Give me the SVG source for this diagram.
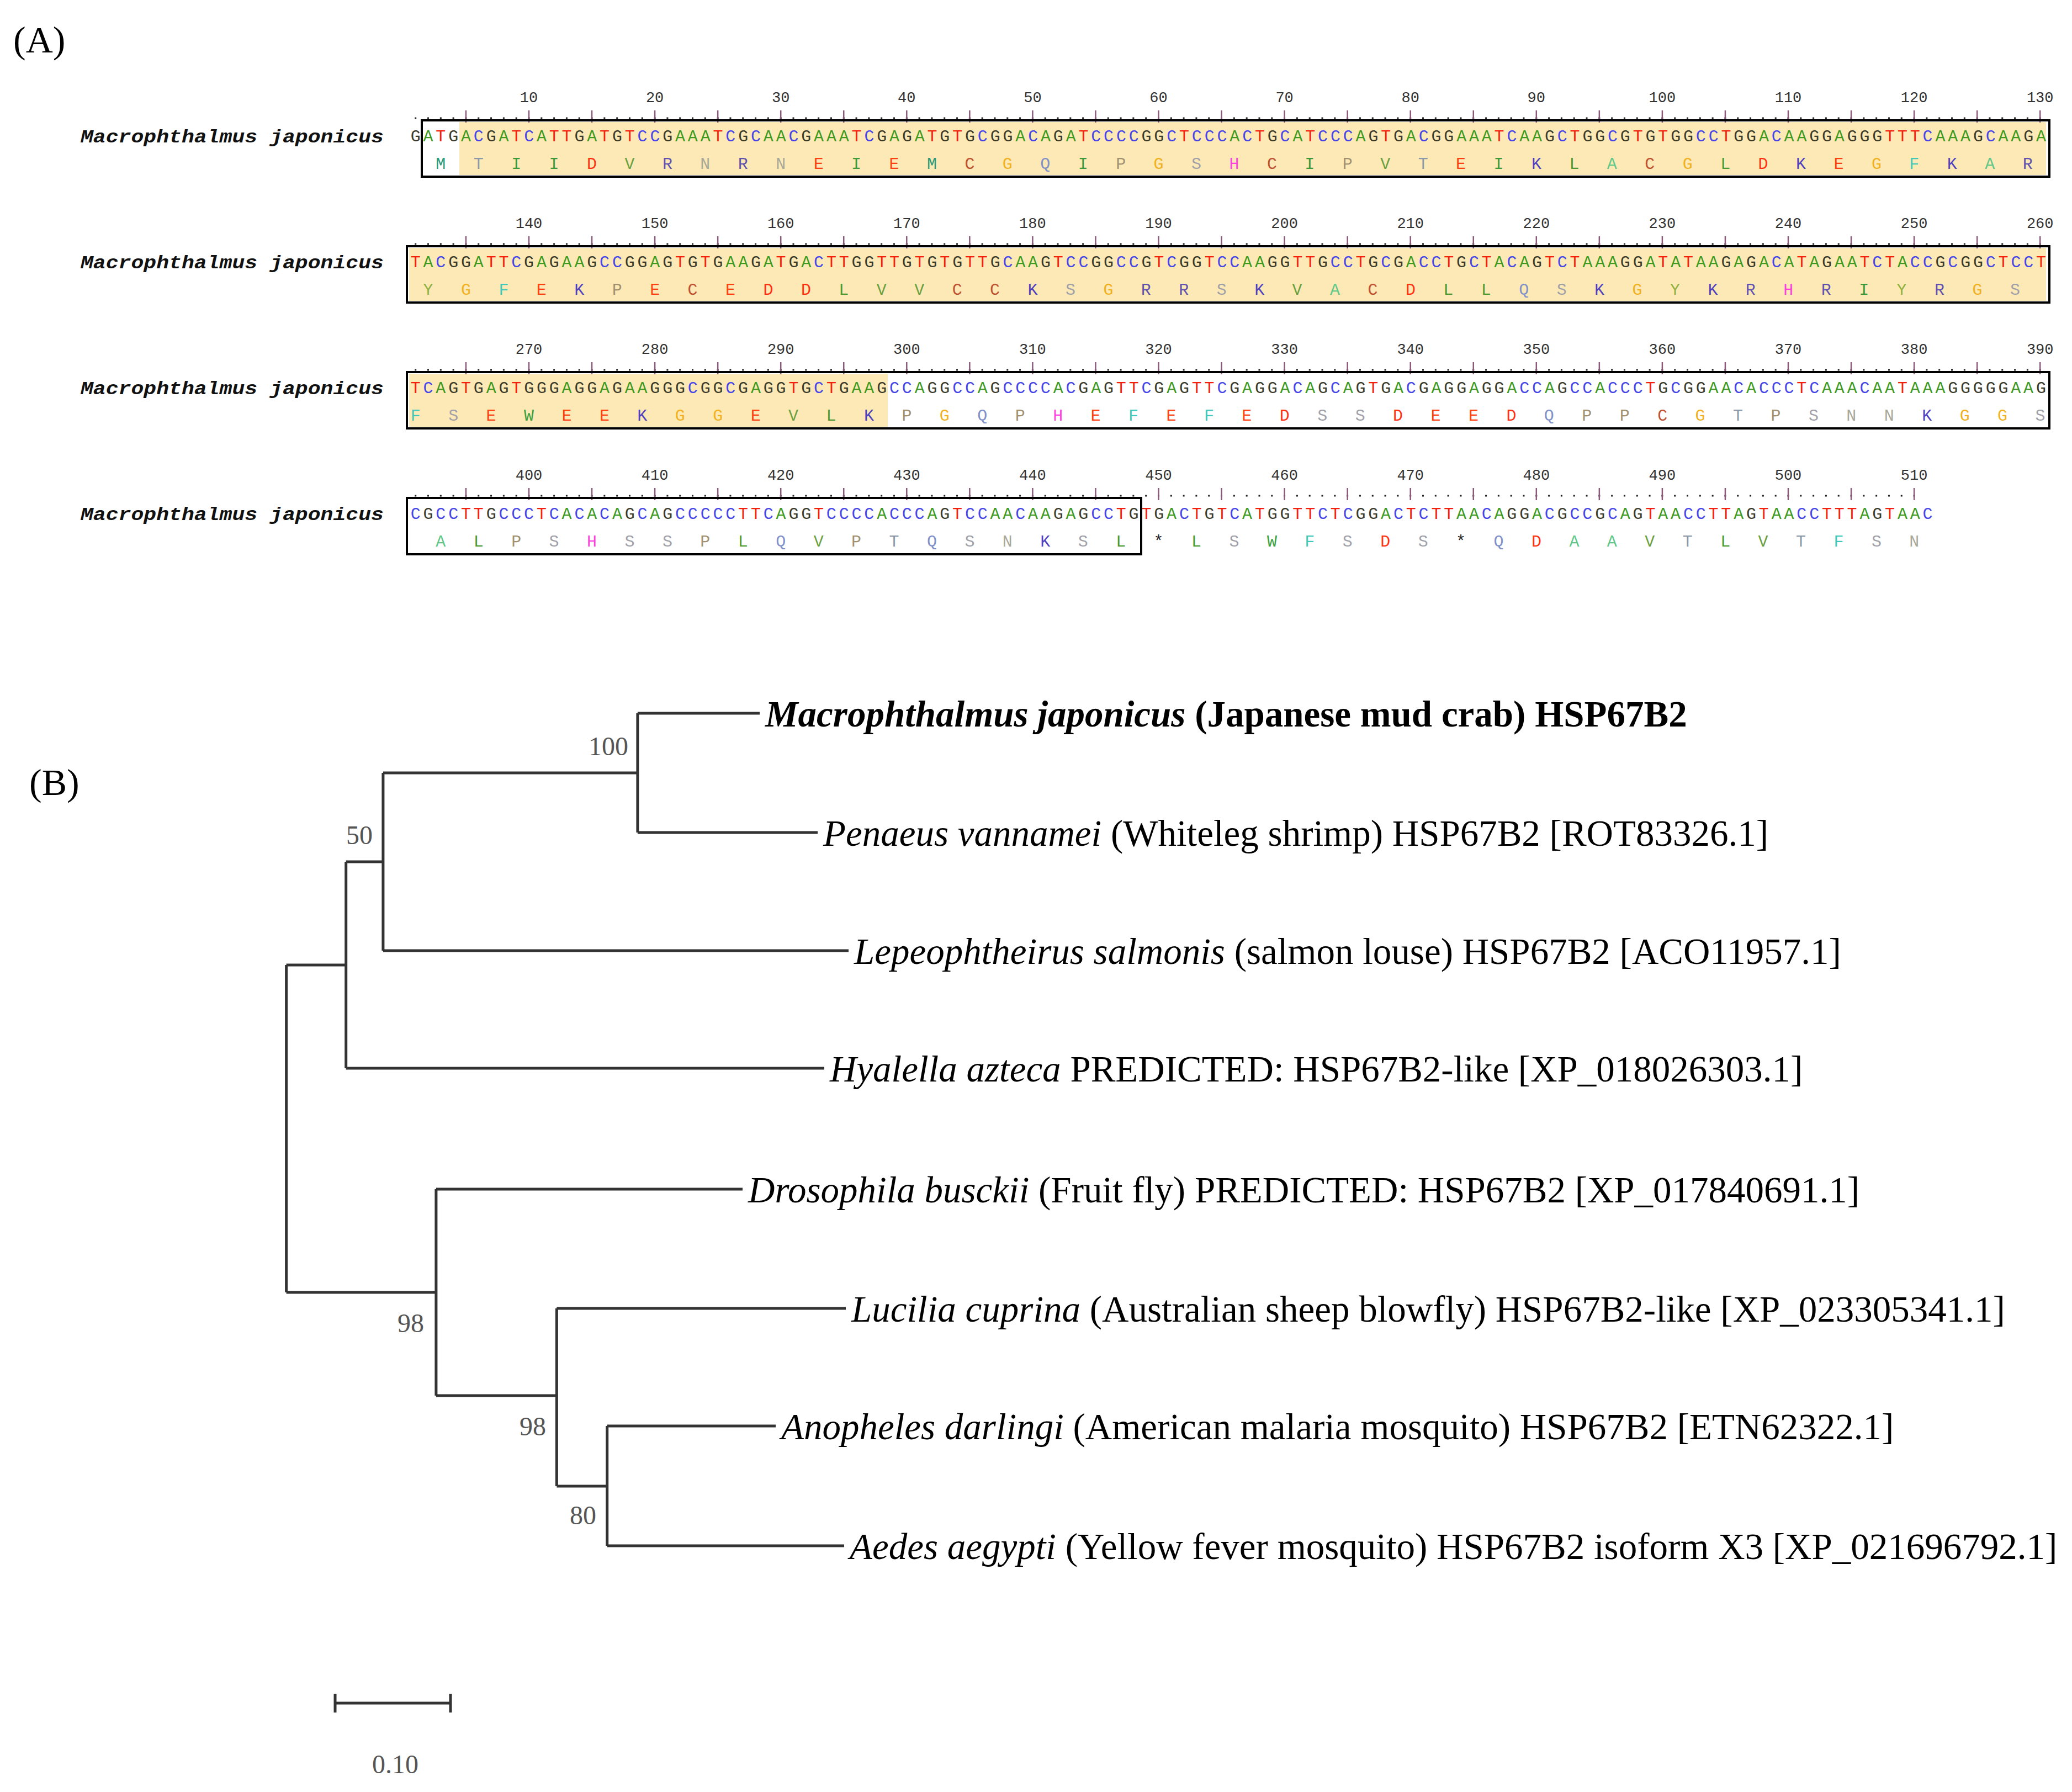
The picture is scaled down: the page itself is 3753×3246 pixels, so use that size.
<svg xmlns="http://www.w3.org/2000/svg" xmlns:xlink="http://www.w3.org/1999/xlink" width="3753" height="3246" viewBox="0 0 3753 3246">
<style>
.seq{font-family:"Liberation Mono",monospace;font-size:30px;letter-spacing:4.81px}
.aa{font-family:"Liberation Mono",monospace;font-size:30px;letter-spacing:50.43px}
.num{font-family:"Liberation Mono",monospace;font-size:27px;fill:#333;text-anchor:middle}
.a{fill:#3c9a1e}.t{fill:#f4200c}.c{fill:#4646e8}.g{fill:#3a3a2a}
.M{fill:#2a9a7a}.T{fill:#8a98a8}.I{fill:#3a9a3a}.D{fill:#ff3010}.V{fill:#6aa040}.R{fill:#6050b0}.N{fill:#a8a898}.E{fill:#ff4010}.C{fill:#c05030}.G{fill:#f0b020}.Q{fill:#8090c8}.P{fill:#a09070}.S{fill:#a0a0a8}.H{fill:#ff40e0}.K{fill:#5040c0}.L{fill:#4a9a30}.A{fill:#60c888}.F{fill:#40c8b8}.W{fill:#3aa040}.Y{fill:#90b040}.X{fill:#222}
.box{fill:none;stroke:#000;stroke-width:4}
.hl{fill:#fde9b6}
.br{stroke:#333;stroke-width:5;fill:none}
.lab{font-family:"Liberation Serif",serif;font-size:67px;fill:#000}
.bs{font-family:"Liberation Serif",serif;font-size:48px;fill:#555;text-anchor:end}
.panel{font-family:"Liberation Serif",serif;font-size:68px;fill:#000}
.name{font-family:"Liberation Mono",monospace;font-size:34px;font-weight:bold;font-style:italic;fill:#111}
</style>
<defs>
<g id="ticks">
<line x1="751.2" y1="214" x2="3697" y2="214" stroke="#222" stroke-width="3" stroke-dasharray="3 19.81"/>
<path d="M843.95 200V222M958 200V222M1072.05 200V222M1186.1 200V222M1300.15 200V222M1414.2 200V222M1528.25 200V222M1642.3 200V222M1756.35 200V222M1870.4 200V222M1984.45 200V222M2098.5 200V222M2212.55 200V222M2326.6 200V222M2440.65 200V222M2554.7 200V222M2668.75 200V222M2782.8 200V222M2896.85 200V222M3010.9 200V222M3124.95 200V222M3239 200V222M3353.05 200V222M3467.1 200V222M3581.15 200V222M3695.2 200V222" stroke="#8b5a7a" stroke-width="2.5"/>
</g>
<g id="ticks4">
<line x1="751.2" y1="214" x2="3470" y2="214" stroke="#222" stroke-width="3" stroke-dasharray="3 19.81"/>
<path d="M843.95 200V222M958 200V222M1072.05 200V222M1186.1 200V222M1300.15 200V222M1414.2 200V222M1528.25 200V222M1642.3 200V222M1756.35 200V222M1870.4 200V222M1984.45 200V222M2098.5 200V222M2212.55 200V222M2326.6 200V222M2440.65 200V222M2554.7 200V222M2668.75 200V222M2782.8 200V222M2896.85 200V222M3010.9 200V222M3124.95 200V222M3239 200V222M3353.05 200V222M3467.1 200V222" stroke="#8b5a7a" stroke-width="2.5"/>
</g>
</defs>
<rect width="3753" height="3246" fill="#fff"/>
<g id="panelA">
<text class="panel" x="24" y="95">(A)</text>
<g id="row1">
<rect class="hl" x="832" y="221" width="2874" height="96"/>
<use xlink:href="#ticks"/>
<text class="num" y="185"><tspan x="958">10</tspan><tspan x="1186.1">20</tspan><tspan x="1414.2">30</tspan><tspan x="1642.3">40</tspan><tspan x="1870.4">50</tspan><tspan x="2098.5">60</tspan><tspan x="2326.6">70</tspan><tspan x="2554.7">80</tspan><tspan x="2782.8">90</tspan><tspan x="3010.9">100</tspan><tspan x="3239">110</tspan><tspan x="3467.1">120</tspan><tspan x="3695.2">130</tspan></text>
<text class="name" x="146" y="258" textLength="549" lengthAdjust="spacingAndGlyphs">Macrophthalmus japonicus</text>
<text class="seq" x="743.7" y="256"><tspan class="g">G</tspan><tspan class="a">A</tspan><tspan class="t">T</tspan><tspan class="g">G</tspan><tspan class="a">A</tspan><tspan class="c">C</tspan><tspan class="g">G</tspan><tspan class="a">A</tspan><tspan class="t">T</tspan><tspan class="c">C</tspan><tspan class="a">A</tspan><tspan class="t">TT</tspan><tspan class="g">G</tspan><tspan class="a">A</tspan><tspan class="t">T</tspan><tspan class="g">G</tspan><tspan class="t">T</tspan><tspan class="c">CC</tspan><tspan class="g">G</tspan><tspan class="a">AAA</tspan><tspan class="t">T</tspan><tspan class="c">C</tspan><tspan class="g">G</tspan><tspan class="c">C</tspan><tspan class="a">AA</tspan><tspan class="c">C</tspan><tspan class="g">G</tspan><tspan class="a">AAA</tspan><tspan class="t">T</tspan><tspan class="c">C</tspan><tspan class="g">G</tspan><tspan class="a">A</tspan><tspan class="g">G</tspan><tspan class="a">A</tspan><tspan class="t">T</tspan><tspan class="g">G</tspan><tspan class="t">T</tspan><tspan class="g">G</tspan><tspan class="c">C</tspan><tspan class="g">GG</tspan><tspan class="a">A</tspan><tspan class="c">C</tspan><tspan class="a">A</tspan><tspan class="g">G</tspan><tspan class="a">A</tspan><tspan class="t">T</tspan><tspan class="c">CCCC</tspan><tspan class="g">GG</tspan><tspan class="c">C</tspan><tspan class="t">T</tspan><tspan class="c">CCC</tspan><tspan class="a">A</tspan><tspan class="c">C</tspan><tspan class="t">T</tspan><tspan class="g">G</tspan><tspan class="c">C</tspan><tspan class="a">A</tspan><tspan class="t">T</tspan><tspan class="c">CCC</tspan><tspan class="a">A</tspan><tspan class="g">G</tspan><tspan class="t">T</tspan><tspan class="g">G</tspan><tspan class="a">A</tspan><tspan class="c">C</tspan><tspan class="g">GG</tspan><tspan class="a">AAA</tspan><tspan class="t">T</tspan><tspan class="c">C</tspan><tspan class="a">AA</tspan><tspan class="g">G</tspan><tspan class="c">C</tspan><tspan class="t">T</tspan><tspan class="g">GG</tspan><tspan class="c">C</tspan><tspan class="g">G</tspan><tspan class="t">T</tspan><tspan class="g">G</tspan><tspan class="t">T</tspan><tspan class="g">GG</tspan><tspan class="c">CC</tspan><tspan class="t">T</tspan><tspan class="g">GG</tspan><tspan class="a">A</tspan><tspan class="c">C</tspan><tspan class="a">AA</tspan><tspan class="g">GG</tspan><tspan class="a">A</tspan><tspan class="g">GGG</tspan><tspan class="t">TTT</tspan><tspan class="c">C</tspan><tspan class="a">AAA</tspan><tspan class="g">G</tspan><tspan class="c">C</tspan><tspan class="a">AA</tspan><tspan class="g">G</tspan><tspan class="a">A</tspan></text>
<text class="aa" x="789.3" y="306"><tspan class="M">M</tspan><tspan class="T">T</tspan><tspan class="I">I</tspan><tspan class="I">I</tspan><tspan class="D">D</tspan><tspan class="V">V</tspan><tspan class="R">R</tspan><tspan class="N">N</tspan><tspan class="R">R</tspan><tspan class="N">N</tspan><tspan class="E">E</tspan><tspan class="I">I</tspan><tspan class="E">E</tspan><tspan class="M">M</tspan><tspan class="C">C</tspan><tspan class="G">G</tspan><tspan class="Q">Q</tspan><tspan class="I">I</tspan><tspan class="P">P</tspan><tspan class="G">G</tspan><tspan class="S">S</tspan><tspan class="H">H</tspan><tspan class="C">C</tspan><tspan class="I">I</tspan><tspan class="P">P</tspan><tspan class="V">V</tspan><tspan class="T">T</tspan><tspan class="E">E</tspan><tspan class="I">I</tspan><tspan class="K">K</tspan><tspan class="L">L</tspan><tspan class="A">A</tspan><tspan class="C">C</tspan><tspan class="G">G</tspan><tspan class="L">L</tspan><tspan class="D">D</tspan><tspan class="K">K</tspan><tspan class="E">E</tspan><tspan class="G">G</tspan><tspan class="F">F</tspan><tspan class="K">K</tspan><tspan class="A">A</tspan><tspan class="R">R</tspan></text>
<rect class="box" x="764" y="218" width="2948" height="102"/>
</g>
<g id="row2" transform="translate(0,228)">
<rect class="hl" x="741" y="221" width="2965" height="96"/>
<use xlink:href="#ticks"/>
<text class="num" y="185"><tspan x="958">140</tspan><tspan x="1186.1">150</tspan><tspan x="1414.2">160</tspan><tspan x="1642.3">170</tspan><tspan x="1870.4">180</tspan><tspan x="2098.5">190</tspan><tspan x="2326.6">200</tspan><tspan x="2554.7">210</tspan><tspan x="2782.8">220</tspan><tspan x="3010.9">230</tspan><tspan x="3239">240</tspan><tspan x="3467.1">250</tspan><tspan x="3695.2">260</tspan></text>
<text class="name" x="146" y="258" textLength="549" lengthAdjust="spacingAndGlyphs">Macrophthalmus japonicus</text>
<text class="seq" x="743.7" y="256"><tspan class="t">T</tspan><tspan class="a">A</tspan><tspan class="c">C</tspan><tspan class="g">GG</tspan><tspan class="a">A</tspan><tspan class="t">TT</tspan><tspan class="c">C</tspan><tspan class="g">G</tspan><tspan class="a">A</tspan><tspan class="g">G</tspan><tspan class="a">AA</tspan><tspan class="g">G</tspan><tspan class="c">CC</tspan><tspan class="g">GG</tspan><tspan class="a">A</tspan><tspan class="g">G</tspan><tspan class="t">T</tspan><tspan class="g">G</tspan><tspan class="t">T</tspan><tspan class="g">G</tspan><tspan class="a">AA</tspan><tspan class="g">G</tspan><tspan class="a">A</tspan><tspan class="t">T</tspan><tspan class="g">G</tspan><tspan class="a">A</tspan><tspan class="c">C</tspan><tspan class="t">TT</tspan><tspan class="g">GG</tspan><tspan class="t">TT</tspan><tspan class="g">G</tspan><tspan class="t">T</tspan><tspan class="g">G</tspan><tspan class="t">T</tspan><tspan class="g">G</tspan><tspan class="t">TT</tspan><tspan class="g">G</tspan><tspan class="c">C</tspan><tspan class="a">AA</tspan><tspan class="g">G</tspan><tspan class="t">T</tspan><tspan class="c">CC</tspan><tspan class="g">GG</tspan><tspan class="c">CC</tspan><tspan class="g">G</tspan><tspan class="t">T</tspan><tspan class="c">C</tspan><tspan class="g">GG</tspan><tspan class="t">T</tspan><tspan class="c">CC</tspan><tspan class="a">AA</tspan><tspan class="g">GG</tspan><tspan class="t">TT</tspan><tspan class="g">G</tspan><tspan class="c">CC</tspan><tspan class="t">T</tspan><tspan class="g">G</tspan><tspan class="c">C</tspan><tspan class="g">G</tspan><tspan class="a">A</tspan><tspan class="c">CC</tspan><tspan class="t">T</tspan><tspan class="g">G</tspan><tspan class="c">C</tspan><tspan class="t">T</tspan><tspan class="a">A</tspan><tspan class="c">C</tspan><tspan class="a">A</tspan><tspan class="g">G</tspan><tspan class="t">T</tspan><tspan class="c">C</tspan><tspan class="t">T</tspan><tspan class="a">AAA</tspan><tspan class="g">GG</tspan><tspan class="a">A</tspan><tspan class="t">T</tspan><tspan class="a">A</tspan><tspan class="t">T</tspan><tspan class="a">AA</tspan><tspan class="g">G</tspan><tspan class="a">A</tspan><tspan class="g">G</tspan><tspan class="a">A</tspan><tspan class="c">C</tspan><tspan class="a">A</tspan><tspan class="t">T</tspan><tspan class="a">A</tspan><tspan class="g">G</tspan><tspan class="a">AA</tspan><tspan class="t">T</tspan><tspan class="c">C</tspan><tspan class="t">T</tspan><tspan class="a">A</tspan><tspan class="c">CC</tspan><tspan class="g">G</tspan><tspan class="c">C</tspan><tspan class="g">GG</tspan><tspan class="c">C</tspan><tspan class="t">T</tspan><tspan class="c">CC</tspan><tspan class="t">T</tspan></text>
<text class="aa" x="766.5" y="306"><tspan class="Y">Y</tspan><tspan class="G">G</tspan><tspan class="F">F</tspan><tspan class="E">E</tspan><tspan class="K">K</tspan><tspan class="P">P</tspan><tspan class="E">E</tspan><tspan class="C">C</tspan><tspan class="E">E</tspan><tspan class="D">D</tspan><tspan class="D">D</tspan><tspan class="L">L</tspan><tspan class="V">V</tspan><tspan class="V">V</tspan><tspan class="C">C</tspan><tspan class="C">C</tspan><tspan class="K">K</tspan><tspan class="S">S</tspan><tspan class="G">G</tspan><tspan class="R">R</tspan><tspan class="R">R</tspan><tspan class="S">S</tspan><tspan class="K">K</tspan><tspan class="V">V</tspan><tspan class="A">A</tspan><tspan class="C">C</tspan><tspan class="D">D</tspan><tspan class="L">L</tspan><tspan class="L">L</tspan><tspan class="Q">Q</tspan><tspan class="S">S</tspan><tspan class="K">K</tspan><tspan class="G">G</tspan><tspan class="Y">Y</tspan><tspan class="K">K</tspan><tspan class="R">R</tspan><tspan class="H">H</tspan><tspan class="R">R</tspan><tspan class="I">I</tspan><tspan class="Y">Y</tspan><tspan class="R">R</tspan><tspan class="G">G</tspan><tspan class="S">S</tspan></text>
<rect class="box" x="737" y="218" width="2975" height="102"/>
</g>
<g id="row3" transform="translate(0,456)">
<rect class="hl" x="741" y="221" width="867" height="96"/>
<use xlink:href="#ticks"/>
<text class="num" y="185"><tspan x="958">270</tspan><tspan x="1186.1">280</tspan><tspan x="1414.2">290</tspan><tspan x="1642.3">300</tspan><tspan x="1870.4">310</tspan><tspan x="2098.5">320</tspan><tspan x="2326.6">330</tspan><tspan x="2554.7">340</tspan><tspan x="2782.8">350</tspan><tspan x="3010.9">360</tspan><tspan x="3239">370</tspan><tspan x="3467.1">380</tspan><tspan x="3695.2">390</tspan></text>
<text class="name" x="146" y="258" textLength="549" lengthAdjust="spacingAndGlyphs">Macrophthalmus japonicus</text>
<text class="seq" x="743.7" y="256"><tspan class="t">T</tspan><tspan class="c">C</tspan><tspan class="a">A</tspan><tspan class="g">G</tspan><tspan class="t">T</tspan><tspan class="g">G</tspan><tspan class="a">A</tspan><tspan class="g">G</tspan><tspan class="t">T</tspan><tspan class="g">GGG</tspan><tspan class="a">A</tspan><tspan class="g">GG</tspan><tspan class="a">A</tspan><tspan class="g">G</tspan><tspan class="a">AA</tspan><tspan class="g">GGG</tspan><tspan class="c">C</tspan><tspan class="g">GG</tspan><tspan class="c">C</tspan><tspan class="g">G</tspan><tspan class="a">A</tspan><tspan class="g">GG</tspan><tspan class="t">T</tspan><tspan class="g">G</tspan><tspan class="c">C</tspan><tspan class="t">T</tspan><tspan class="g">G</tspan><tspan class="a">AA</tspan><tspan class="g">G</tspan><tspan class="c">CC</tspan><tspan class="a">A</tspan><tspan class="g">GG</tspan><tspan class="c">CC</tspan><tspan class="a">A</tspan><tspan class="g">G</tspan><tspan class="c">CCCC</tspan><tspan class="a">A</tspan><tspan class="c">C</tspan><tspan class="g">G</tspan><tspan class="a">A</tspan><tspan class="g">G</tspan><tspan class="t">TT</tspan><tspan class="c">C</tspan><tspan class="g">G</tspan><tspan class="a">A</tspan><tspan class="g">G</tspan><tspan class="t">TT</tspan><tspan class="c">C</tspan><tspan class="g">G</tspan><tspan class="a">A</tspan><tspan class="g">GG</tspan><tspan class="a">A</tspan><tspan class="c">C</tspan><tspan class="a">A</tspan><tspan class="g">G</tspan><tspan class="c">C</tspan><tspan class="a">A</tspan><tspan class="g">G</tspan><tspan class="t">T</tspan><tspan class="g">G</tspan><tspan class="a">A</tspan><tspan class="c">C</tspan><tspan class="g">G</tspan><tspan class="a">A</tspan><tspan class="g">GG</tspan><tspan class="a">A</tspan><tspan class="g">GG</tspan><tspan class="a">A</tspan><tspan class="c">CC</tspan><tspan class="a">A</tspan><tspan class="g">G</tspan><tspan class="c">CC</tspan><tspan class="a">A</tspan><tspan class="c">CCC</tspan><tspan class="t">T</tspan><tspan class="g">G</tspan><tspan class="c">C</tspan><tspan class="g">GG</tspan><tspan class="a">AA</tspan><tspan class="c">C</tspan><tspan class="a">A</tspan><tspan class="c">CCC</tspan><tspan class="t">T</tspan><tspan class="c">C</tspan><tspan class="a">AAA</tspan><tspan class="c">C</tspan><tspan class="a">AA</tspan><tspan class="t">T</tspan><tspan class="a">AAA</tspan><tspan class="g">GGGGG</tspan><tspan class="a">AA</tspan><tspan class="g">G</tspan></text>
<text class="aa" x="743.7" y="306"><tspan class="F">F</tspan><tspan class="S">S</tspan><tspan class="E">E</tspan><tspan class="W">W</tspan><tspan class="E">E</tspan><tspan class="E">E</tspan><tspan class="K">K</tspan><tspan class="G">G</tspan><tspan class="G">G</tspan><tspan class="E">E</tspan><tspan class="V">V</tspan><tspan class="L">L</tspan><tspan class="K">K</tspan><tspan class="P">P</tspan><tspan class="G">G</tspan><tspan class="Q">Q</tspan><tspan class="P">P</tspan><tspan class="H">H</tspan><tspan class="E">E</tspan><tspan class="F">F</tspan><tspan class="E">E</tspan><tspan class="F">F</tspan><tspan class="E">E</tspan><tspan class="D">D</tspan><tspan class="S">S</tspan><tspan class="S">S</tspan><tspan class="D">D</tspan><tspan class="E">E</tspan><tspan class="E">E</tspan><tspan class="D">D</tspan><tspan class="Q">Q</tspan><tspan class="P">P</tspan><tspan class="P">P</tspan><tspan class="C">C</tspan><tspan class="G">G</tspan><tspan class="T">T</tspan><tspan class="P">P</tspan><tspan class="S">S</tspan><tspan class="N">N</tspan><tspan class="N">N</tspan><tspan class="K">K</tspan><tspan class="G">G</tspan><tspan class="G">G</tspan><tspan class="S">S</tspan></text>
<rect class="box" x="737" y="218" width="2975" height="102"/>
</g>
<g id="row4" transform="translate(0,684)">
<use xlink:href="#ticks4"/>
<text class="num" y="185"><tspan x="958">400</tspan><tspan x="1186.1">410</tspan><tspan x="1414.2">420</tspan><tspan x="1642.3">430</tspan><tspan x="1870.4">440</tspan><tspan x="2098.5">450</tspan><tspan x="2326.6">460</tspan><tspan x="2554.7">470</tspan><tspan x="2782.8">480</tspan><tspan x="3010.9">490</tspan><tspan x="3239">500</tspan><tspan x="3467.1">510</tspan></text>
<text class="name" x="146" y="258" textLength="549" lengthAdjust="spacingAndGlyphs">Macrophthalmus japonicus</text>
<text class="seq" x="743.7" y="256"><tspan class="c">C</tspan><tspan class="g">G</tspan><tspan class="c">CC</tspan><tspan class="t">TT</tspan><tspan class="g">G</tspan><tspan class="c">CCC</tspan><tspan class="t">T</tspan><tspan class="c">C</tspan><tspan class="a">A</tspan><tspan class="c">C</tspan><tspan class="a">A</tspan><tspan class="c">C</tspan><tspan class="a">A</tspan><tspan class="g">G</tspan><tspan class="c">C</tspan><tspan class="a">A</tspan><tspan class="g">G</tspan><tspan class="c">CCCCC</tspan><tspan class="t">TT</tspan><tspan class="c">C</tspan><tspan class="a">A</tspan><tspan class="g">GG</tspan><tspan class="t">T</tspan><tspan class="c">CCCC</tspan><tspan class="a">A</tspan><tspan class="c">CCC</tspan><tspan class="a">A</tspan><tspan class="g">G</tspan><tspan class="t">T</tspan><tspan class="c">CC</tspan><tspan class="a">AA</tspan><tspan class="c">C</tspan><tspan class="a">AA</tspan><tspan class="g">G</tspan><tspan class="a">A</tspan><tspan class="g">G</tspan><tspan class="c">CC</tspan><tspan class="t">T</tspan><tspan class="g">G</tspan><tspan class="t">T</tspan><tspan class="g">G</tspan><tspan class="a">A</tspan><tspan class="c">C</tspan><tspan class="t">T</tspan><tspan class="g">G</tspan><tspan class="t">T</tspan><tspan class="c">C</tspan><tspan class="a">A</tspan><tspan class="t">T</tspan><tspan class="g">GG</tspan><tspan class="t">TT</tspan><tspan class="c">C</tspan><tspan class="t">T</tspan><tspan class="c">C</tspan><tspan class="g">GG</tspan><tspan class="a">A</tspan><tspan class="c">C</tspan><tspan class="t">T</tspan><tspan class="c">C</tspan><tspan class="t">TT</tspan><tspan class="a">AA</tspan><tspan class="c">C</tspan><tspan class="a">A</tspan><tspan class="g">GG</tspan><tspan class="a">A</tspan><tspan class="c">C</tspan><tspan class="g">G</tspan><tspan class="c">CC</tspan><tspan class="g">G</tspan><tspan class="c">C</tspan><tspan class="a">A</tspan><tspan class="g">G</tspan><tspan class="t">T</tspan><tspan class="a">AA</tspan><tspan class="c">CC</tspan><tspan class="t">TT</tspan><tspan class="a">A</tspan><tspan class="g">G</tspan><tspan class="t">T</tspan><tspan class="a">AA</tspan><tspan class="c">CC</tspan><tspan class="t">TTT</tspan><tspan class="a">A</tspan><tspan class="g">G</tspan><tspan class="t">T</tspan><tspan class="a">AA</tspan><tspan class="c">C</tspan></text>
<text class="aa" x="789.3" y="306"><tspan class="A">A</tspan><tspan class="L">L</tspan><tspan class="P">P</tspan><tspan class="S">S</tspan><tspan class="H">H</tspan><tspan class="S">S</tspan><tspan class="S">S</tspan><tspan class="P">P</tspan><tspan class="L">L</tspan><tspan class="Q">Q</tspan><tspan class="V">V</tspan><tspan class="P">P</tspan><tspan class="T">T</tspan><tspan class="Q">Q</tspan><tspan class="S">S</tspan><tspan class="N">N</tspan><tspan class="K">K</tspan><tspan class="S">S</tspan><tspan class="L">L</tspan><tspan class="X">*</tspan><tspan class="L">L</tspan><tspan class="S">S</tspan><tspan class="W">W</tspan><tspan class="F">F</tspan><tspan class="S">S</tspan><tspan class="D">D</tspan><tspan class="S">S</tspan><tspan class="X">*</tspan><tspan class="Q">Q</tspan><tspan class="D">D</tspan><tspan class="A">A</tspan><tspan class="A">A</tspan><tspan class="V">V</tspan><tspan class="T">T</tspan><tspan class="L">L</tspan><tspan class="V">V</tspan><tspan class="T">T</tspan><tspan class="F">F</tspan><tspan class="S">S</tspan><tspan class="N">N</tspan></text>
<rect class="box" x="737" y="218" width="1330" height="102"/>
</g>
</g>
<g id="panelB">
<text class="panel" x="53" y="1440">(B)</text>
<g id="connectors">
<path class="br" d="M518.6 1748V2341"/>
<path class="br" d="M518.6 1748H626.7M626.7 1561V1935M626.7 1561H693.9M693.9 1400V1722M693.9 1400H1154.9M1154.9 1292V1508"/>
<path class="br" d="M518.6 2341H789.9M789.9 2154V2528M789.9 2528H1008.4M1008.4 2370V2692M1008.4 2692H1099.7M1099.7 2583V2800"/>
<path class="br" d="M1154.9 1292H1376M1154.9 1508H1481M693.9 1722H1537M626.7 1935H1493M789.9 2154H1345M1008.4 2370H1532M1099.7 2583H1405M1099.7 2800H1529"/>
</g>
<g id="bootstrap">
<text class="bs" x="1138" y="1368">100</text>
<text class="bs" x="675" y="1529">50</text>
<text class="bs" x="768" y="2413">98</text>
<text class="bs" x="989" y="2600">98</text>
<text class="bs" x="1080" y="2761">80</text>
</g>
<g id="leaf1"><text class="lab" x="1386" y="1316" font-weight="bold"><tspan font-style="italic">Macrophthalmus japonicus</tspan> (Japanese mud crab) HSP67B2</text></g>
<g id="leaf2"><text class="lab" x="1491" y="1532"><tspan font-style="italic">Penaeus vannamei</tspan> (Whiteleg shrimp) HSP67B2 [ROT83326.1]</text></g>
<g id="leaf3"><text class="lab" x="1547" y="1746"><tspan font-style="italic">Lepeophtheirus salmonis</tspan> (salmon louse) HSP67B2 [ACO11957.1]</text></g>
<g id="leaf4"><text class="lab" x="1503" y="1959"><tspan font-style="italic">Hyalella azteca</tspan> PREDICTED: HSP67B2-like [XP_018026303.1]</text></g>
<g id="leaf5"><text class="lab" x="1355" y="2178"><tspan font-style="italic">Drosophila busckii</tspan> (Fruit fly) PREDICTED: HSP67B2 [XP_017840691.1]</text></g>
<g id="leaf6"><text class="lab" x="1542" y="2394"><tspan font-style="italic">Lucilia cuprina</tspan> (Australian sheep blowfly) HSP67B2-like [XP_023305341.1]</text></g>
<g id="leaf7"><text class="lab" x="1415" y="2607"><tspan font-style="italic">Anopheles darlingi</tspan> (American malaria mosquito) HSP67B2 [ETN62322.1]</text></g>
<g id="leaf8"><text class="lab" x="1539" y="2824"><tspan font-style="italic">Aedes aegypti</tspan> (Yellow fever mosquito) HSP67B2 isoform X3 [XP_021696792.1]</text></g>
<g id="scalebar">
<path class="br" d="M607 3085H816M607 3068V3102M816 3068V3102"/>
<text x="716" y="3212" font-family="Liberation Serif, serif" font-size="48" fill="#555" text-anchor="middle">0.10</text>
</g>
</g>
</svg>
